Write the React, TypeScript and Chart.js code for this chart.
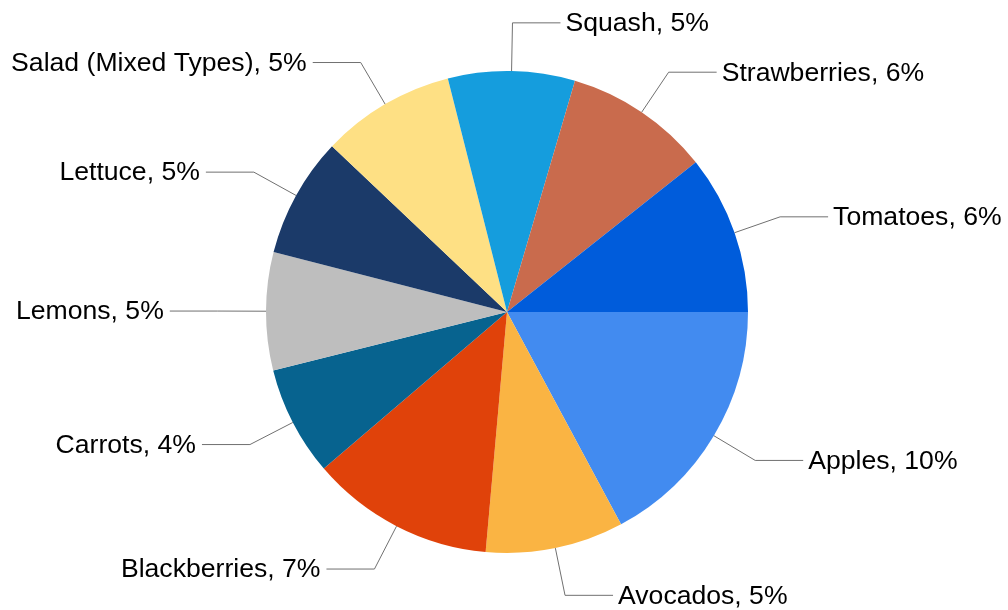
import React, { useEffect, useRef } from "react";
import { Chart, registerables } from "chart.js";

Chart.register(...registerables);

const categories = [
  "Apples",
  "Avocados",
  "Blackberries",
  "Carrots",
  "Lemons",
  "Lettuce",
  "Salad (Mixed Types)",
  "Squash",
  "Strawberries",
  "Tomatoes",
];

// share values (percent)
const shares = [9.95, 5.37, 7.15, 4.27, 4.58, 4.68, 5.21, 4.93, 5.67, 6.19];

const colors = [
  "#428bf0",
  "#fab443",
  "#e0420a",
  "#07638f",
  "#bebebe",
  "#1b3a69",
  "#fee084",
  "#159ddd",
  "#c96b4d",
  "#005cdb",
];

const leaderPlugin = {
  id: "leaderLabels",
  afterDatasetsDraw(chart: any) {
    const ctx = chart.ctx;
    const meta = chart.getDatasetMeta(0);
    ctx.save();
    ctx.font = '26.6px "Liberation Sans", Arial, sans-serif';
    ctx.textBaseline = "middle";
    meta.data.forEach((arc: any, i: number) => {
      const { x, y, startAngle, endAngle, outerRadius } = arc.getProps(
        ["x", "y", "startAngle", "endAngle", "outerRadius"],
        true
      );
      const mid = (startAngle + endAngle) / 2;
      const c = Math.cos(mid);
      const s = Math.sin(mid);
      const x0 = x + c * outerRadius;
      const y0 = y + s * outerRadius;
      const er = outerRadius * 1.2;
      const x1 = x + c * er;
      const y1 = y + s * er;
      const right = c >= 0;
      const x2 = x1 + (right ? 48 : -48);
      ctx.strokeStyle = "#707070";
      ctx.lineWidth = 1;
      ctx.beginPath();
      ctx.moveTo(x0, y0);
      ctx.lineTo(x1, y1);
      ctx.lineTo(x2, y1);
      ctx.stroke();
      ctx.fillStyle = "#000000";
      ctx.textAlign = right ? "left" : "right";
      const text = `${categories[i]}, ${Math.round(shares[i])}%`;
      ctx.fillText(text, x2 + (right ? 5 : -6), y1 + 1);
    });
    ctx.restore();
  },
};

export default function App() {
  const ref = useRef<HTMLCanvasElement>(null);
  useEffect(() => {
    document.body.style.margin = "0";
    if (!ref.current) return;
    const chart = new Chart(ref.current, {
      type: "pie",
      data: {
        labels: categories,
        datasets: [
          {
            data: shares,
            backgroundColor: colors,
            borderWidth: 0,
            hoverOffset: 0,
          },
        ],
      },
      options: {
        responsive: false,
        animation: false,
        rotation: 90,
        layout: { padding: { left: 266, right: 260, top: 71, bottom: 57 } },
        plugins: {
          legend: { display: false },
          tooltip: { enabled: false },
        },
      },
      plugins: [leaderPlugin],
    });
    return () => chart.destroy();
  }, []);
  return (
    <div style={{ position: "absolute", left: 0, top: 0, width: 1008, height: 610, background: "#fff" }}>
      <canvas ref={ref} width={1008} height={610} style={{ width: 1008, height: 610 }} />
    </div>
  );
}
